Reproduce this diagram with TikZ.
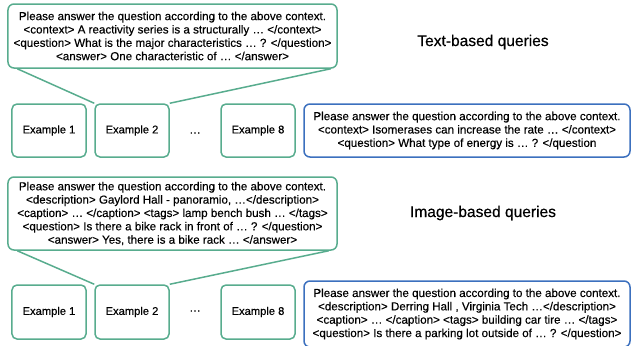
\documentclass[tikz,border=0pt]{standalone}
\usepackage{fontspec}
\setmainfont{Liberation Sans}
\newfontfamily\medfont[FakeBold=0.35]{Liberation Sans}
\definecolor{tgreen}{RGB}{88,172,142}
\definecolor{tblue}{RGB}{60,112,190}
\begin{document}
\begin{tikzpicture}[x=1bp,y=-1bp,
  bodyfont/.style={font=\medfont\fontsize{11.65}{13.4}\selectfont},
  callout/.style={draw=tgreen, line width=1.5bp, rounded corners=6bp, inner sep=0pt, align=center, bodyfont, minimum width=329bp},
  querybox/.style={draw=tblue, line width=1.5bp, rounded corners=6bp, inner sep=0pt, align=center, bodyfont, minimum width=326bp},
  exbox/.style={draw=tgreen, line width=1.5bp, rounded corners=5bp, inner sep=0pt, font=\medfont\fontsize{11.2}{13}\selectfont, minimum width=74bp},
  link/.style={draw=tgreen, line width=1.5bp},
  title/.style={font=\medfont\fontsize{15.6}{18}\selectfont, inner sep=0pt}]
\useasboundingbox (0,0) rectangle (632,345);

% ---- text-based ----
\node[callout, minimum height=64bp] (tq) at (172.5,36) {Please answer the question according to the above context.\\
<context> A reactivity series is a structurally … </context>\\
<question> What is the major characteristics … ? </question>\\
<answer> One characteristic of …  </answer>};
\node[exbox, minimum height=53bp] (t1) at (49,130.5) {Example 1};
\node[exbox, minimum height=53bp] (t2) at (132,130.5) {Example 2};
\node[inner sep=0pt, bodyfont] (td) at (195,133) {…};
\node[exbox, minimum height=53bp] (t8) at (258,130.5) {Example 8};
\node[querybox, minimum height=53bp] (tb) at (467,130.5) {Please answer the question according to the above context.\\
<context> Isomerases can increase the rate … </context>\\
<question> What type of energy is  … ? </question};
\node[title] (tt) at (483,42) {Text-based queries};
\draw[link] ([xshift=10bp]tq.south west) -- (t2.north west);
\draw[link] ([xshift=-7bp]tq.south east) -- (t2.north east);

% ---- image-based ----
\node[callout, minimum height=73bp] (iq) at (172.5,213.5) {Please answer the question according to the above context.\\
<description> Gaylord Hall - panoramio, …</description>\\
<caption> … </caption> <tags> lamp bench bush … </tags>\\
<question> Is there a bike rack in front of … ? </question>\\
<answer> Yes, there is a bike rack …  </answer>};
\node[exbox, minimum height=54bp] (i1) at (49,312) {Example 1};
\node[exbox, minimum height=54bp] (i2) at (132,312) {Example 2};
\node[inner sep=0pt, bodyfont] (id) at (195,311) {…};
\node[exbox, minimum height=54bp] (i8) at (258,312) {Example 8};
\node[querybox, minimum height=66bp] (ib) at (467,314) {Please answer the question according to the above context.\\
<description> Derring Hall , Virginia Tech …</description>\\
<caption> … </caption> <tags> building car tire … </tags>\\
<question> Is there a parking lot outside of … ? </question>};
\node[title] (it) at (483,213) {Image-based queries};
\draw[link] ([xshift=10bp]iq.south west) -- (i2.north west);
\draw[link] ([xshift=-9bp]iq.south east) -- (i2.north east);
\end{tikzpicture}
\end{document}
